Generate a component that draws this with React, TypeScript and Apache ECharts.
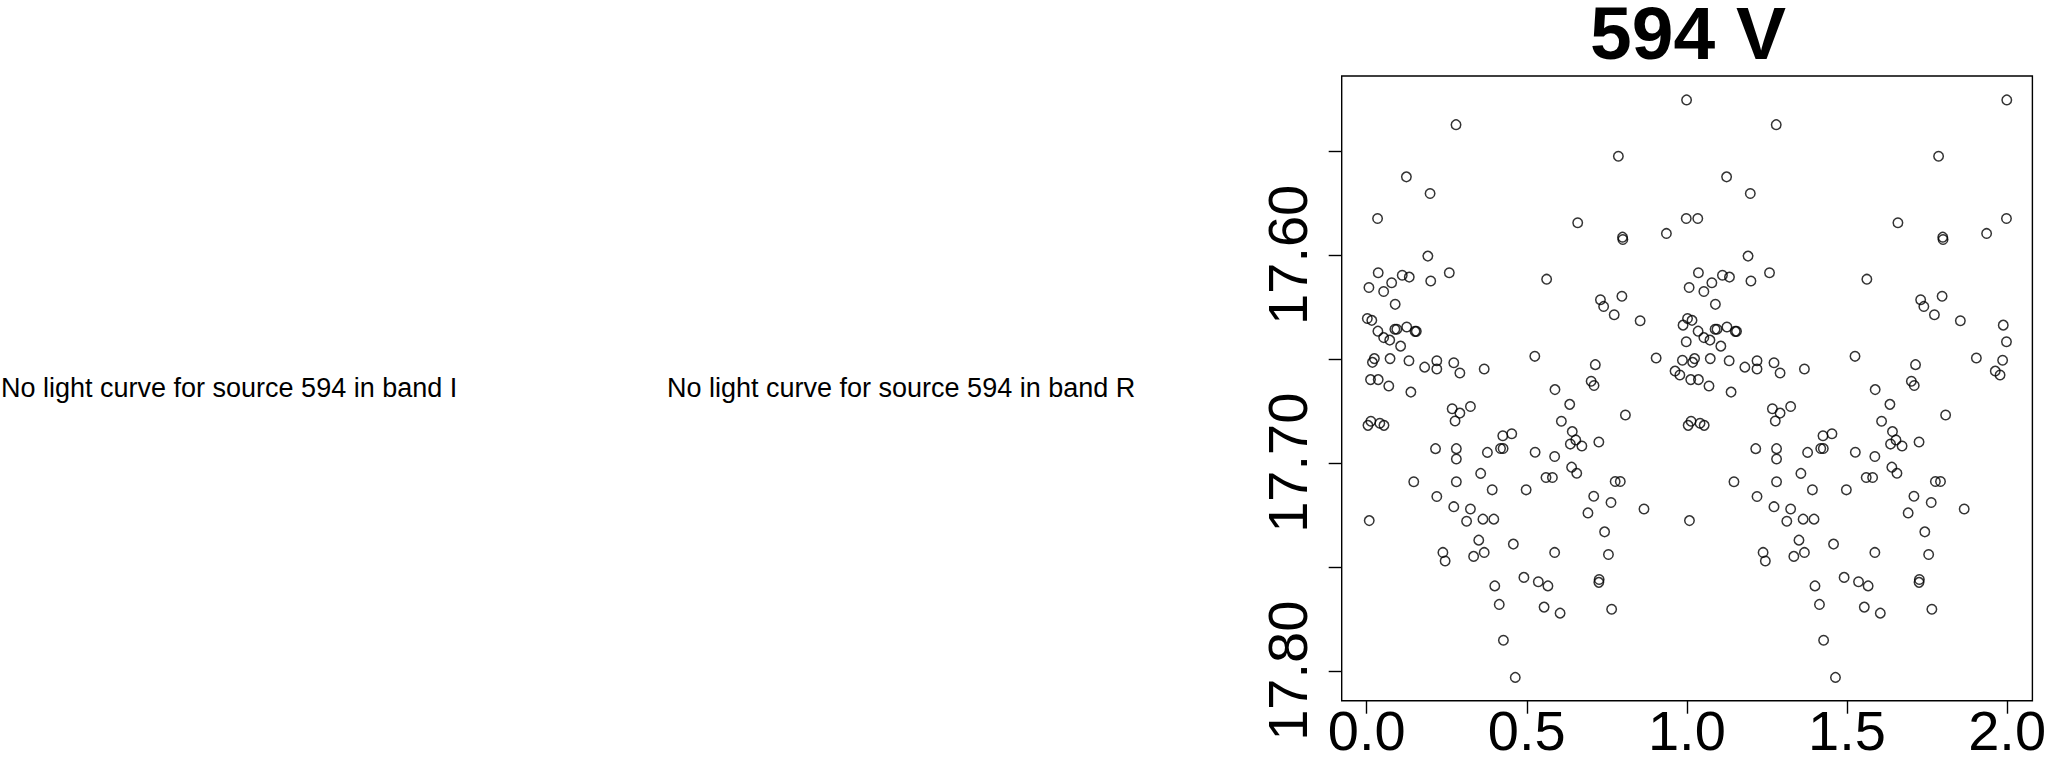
import React, { useEffect, useRef } from "react";
import * as echarts from "echarts";

// Phase (0..1) and V magnitude of each observation; the plot repeats them at phase + 1.
const PHASE = [
  0.279, 0.124, 0.198, 0.034, 0.191, 0.036, 0.111, 0.133, 0.258, 0.078,
  0.200, 0.007, 0.053, 0.089, 0.002, 0.016, 0.035, 0.088, 0.094, 0.125,
  0.151, 0.155, 0.053, 0.072, 0.106, 0.024, 0.018, 0.073, 0.132, 0.181,
  0.219, 0.219, 0.272, 0.291, 0.367, 0.012, 0.036, 0.069, 0.138, 0.267,
  0.291, 0.324, 0.276, 0.004, 0.013, 0.041, 0.054, 0.215, 0.280, 0.280,
  0.377, 0.425, 0.453, 0.418, 0.426, 0.356, 0.147, 0.280, 0.392, 0.498,
  0.219, 0.008, 0.272, 0.324, 0.312, 0.363, 0.397, 0.350, 0.458, 0.238,
  0.245, 0.334, 0.367, 0.491, 0.400, 0.414, 0.427, 0.464, 0.999, 0.786,
  0.659, 0.998, 0.799, 0.800, 0.936, 0.562, 0.730, 0.740, 0.797, 0.773,
  0.854, 0.988, 0.998, 0.904, 0.986, 0.963, 0.978, 0.525, 0.714, 0.701,
  0.710, 0.588, 0.634, 0.808, 0.608, 0.642, 0.653, 0.636, 0.672, 0.725,
  0.526, 0.587, 0.640, 0.656, 0.560, 0.580, 0.776, 0.792, 0.709, 0.763,
  0.866, 0.691, 0.743, 0.587, 0.755, 0.536, 0.566, 0.726, 0.725, 0.554,
  0.604, 0.765,
];
const MAG = [
  17.5374, 17.5625, 17.5705, 17.5825, 17.6006, 17.6086, 17.6098, 17.6107, 17.6086, 17.6134,
  17.6126, 17.6157, 17.6176, 17.6238, 17.6306, 17.6315, 17.6367, 17.6358, 17.6358, 17.6347,
  17.6368, 17.6368, 17.6398, 17.641, 17.6439, 17.6499, 17.6517, 17.6499, 17.6509, 17.654,
  17.6509, 17.6549, 17.6519, 17.6568, 17.6549, 17.66, 17.66, 17.6631, 17.666, 17.674,
  17.6761, 17.6729, 17.6799, 17.682, 17.68, 17.681, 17.682, 17.6932, 17.6932, 17.6982,
  17.695, 17.687, 17.686, 17.6931, 17.6931, 17.7051, 17.7091, 17.7091, 17.713, 17.713,
  17.7162, 17.7278, 17.7211, 17.7222, 17.7281, 17.7271, 17.7271, 17.7372, 17.7391, 17.7431,
  17.7472, 17.745, 17.7431, 17.7551, 17.7592, 17.7681, 17.7853, 17.8032, 17.5255, 17.5526,
  17.5846, 17.5825, 17.5915, 17.5926, 17.5897, 17.6117, 17.6216, 17.6248, 17.6199, 17.6288,
  17.6317, 17.6338, 17.6418, 17.6496, 17.6507, 17.6559, 17.6578, 17.6488, 17.6528, 17.6608,
  17.6628, 17.6648, 17.6719, 17.677, 17.68, 17.685, 17.689, 17.691, 17.6919, 17.69,
  17.6949, 17.697, 17.7021, 17.705, 17.7071, 17.7071, 17.709, 17.709, 17.7161, 17.7191,
  17.7222, 17.7241, 17.7332, 17.7431, 17.7441, 17.7572, 17.7592, 17.7561, 17.7575, 17.7694,
  17.7723, 17.7704,
];

const X_TICKS = [0, 0.5, 1, 1.5, 2];
const Y_TICKS = [17.55, 17.6, 17.65, 17.7, 17.75, 17.8];
const Y_LABELS = [17.6, 17.7, 17.8];
const TITLE = "594 V";
const MSG_I = "No light curve for source 594 in band I";
const MSG_R = "No light curve for source 594 in band R";

const FONT = "'Liberation Sans', Arial, Helvetica, sans-serif";

export default function App() {
  const ref = useRef<HTMLDivElement>(null);

  useEffect(() => {
    document.body.style.margin = "0";
    const el = ref.current;
    if (!el) return;
    const chart = echarts.init(el, null, { renderer: "svg" });

    const points: number[][] = [];
    PHASE.forEach((p, i) => points.push([p, MAG[i]]));
    PHASE.forEach((p, i) => points.push([p + 1, MAG[i]]));

    chart.setOption({
      animation: false,
      backgroundColor: "#ffffff",
      textStyle: { fontFamily: FONT, color: "#000" },
      grid: {
        left: 1341.7,
        top: 76,
        width: 690.7,
        height: 624.7,
        show: true,
        backgroundColor: "transparent",
        borderColor: "#000",
        borderWidth: 1.4,
        containLabel: false,
        outerBoundsMode: "none",
      },
      xAxis: {
        type: "value",
        min: -0.078,
        max: 2.079,
        axisLine: { show: false, onZero: false },
        splitLine: { show: false },
        axisTick: {
          show: true,
          inside: false,
          length: 13,
          customValues: X_TICKS,
          lineStyle: { color: "#000", width: 1.4 },
        },
        axisLabel: {
          customValues: X_TICKS,
          formatter: (v: number) => v.toFixed(1),
          fontSize: 56,
          color: "#000",
          fontFamily: FONT,
          margin: 2,
        },
      },
      yAxis: {
        type: "value",
        inverse: true,
        min: 17.514,
        max: 17.8144,
        axisLine: { show: false, onZero: false },
        splitLine: { show: false },
        axisTick: {
          show: true,
          inside: false,
          length: 13,
          customValues: Y_TICKS,
          lineStyle: { color: "#000", width: 1.4 },
        },
        axisLabel: {
          customValues: Y_LABELS,
          formatter: (v: number) => v.toFixed(2),
          rotate: 90,
          fontSize: 56,
          color: "#000",
          fontFamily: FONT,
          margin: 26,
        },
      },
      series: [
        {
          type: "scatter",
          data: points,
          symbol: "circle",
          symbolSize: 9.5,
          silent: true,
          itemStyle: {
            color: "rgba(0,0,0,0)",
            borderColor: "#000",
            borderWidth: 1.5,
          },
        },
      ],
      graphic: [
        {
          type: "text",
          x: 1688,
          y: 0,
          style: {
            text: TITLE,
            fontSize: 75,
            lineHeight: 66,
            fontWeight: "bold",
            fontFamily: FONT,
            fill: "#000",
            align: "center",
            verticalAlign: "top",
          },
        },
        {
          type: "text",
          x: 1,
          y: 388,
          style: {
            text: MSG_I,
            fontSize: 27,
            fontFamily: FONT,
            fill: "#000",
            align: "left",
            verticalAlign: "middle",
          },
        },
        {
          type: "text",
          x: 667,
          y: 388,
          style: {
            text: MSG_R,
            fontSize: 27,
            fontFamily: FONT,
            fill: "#000",
            align: "left",
            verticalAlign: "middle",
          },
        },
      ],
    });

    return () => chart.dispose();
  }, []);

  return <div ref={ref} style={{ width: 2050, height: 758 }} />;
}
